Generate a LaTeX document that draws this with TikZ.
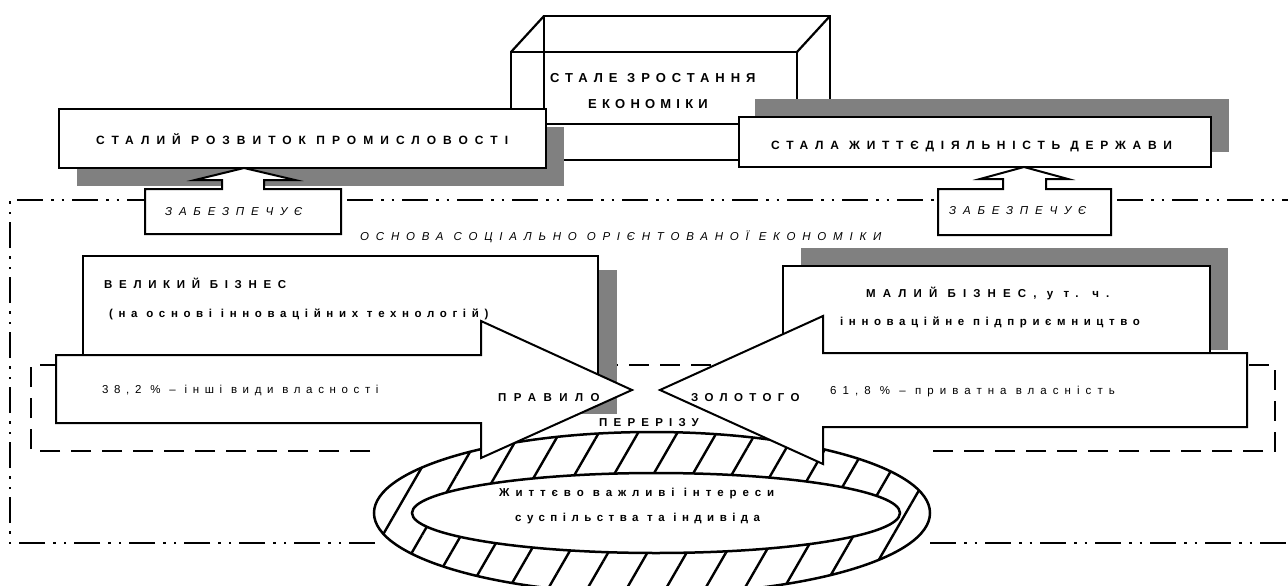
\documentclass[tikz,border=0pt]{standalone}
\usepackage{fontspec}
\setmainfont{Liberation Sans}
\usetikzlibrary{patterns.meta}

\tikzset{
  box/.style={draw, line width=2pt, fill=white},
  shade/.style={fill=black!50},
  cube/.style={line width=2.2pt},
  frameline/.style={line width=1.8pt, dash pattern=on 26pt off 8pt on 2.5pt off 8pt on 2.5pt off 8pt},
  dashline/.style={line width=2pt, dash pattern=on 20pt off 11pt},
  capsb/.style 2 args={inner sep=0pt, anchor=base west, font=\fontsize{#1}{#1}\selectfont\bfseries\addfontfeatures{LetterSpace=#2}},
  capsi/.style 2 args={inner sep=0pt, anchor=base west, font=\fontsize{#1}{#1}\selectfont\itshape\addfontfeatures{LetterSpace=#2}},
  capsr/.style 2 args={inner sep=0pt, anchor=base west, font=\fontsize{#1}{#1}\selectfont\addfontfeatures{LetterSpace=#2}},
}

\begin{document}
\begin{tikzpicture}[x=1pt, y=-1pt]

        \fill[white] (0,0) rectangle (1288,586);
        \useasboundingbox (0,0) rectangle (1288,586);

        % dash-dot frame
        \draw[frameline] (375,543) -| (10,200) -- (1300,200);
        \draw[frameline] (930,543) -- (1300,543);

        % cube
        \draw[cube] (511,52) rectangle (797,160);
        \draw[cube] (544,16) rectangle (830,124);
        \draw[cube] (511,52) -- (544,16);
        \draw[cube] (797,52) -- (830,16);
        \draw[cube] (511,160) -- (544,124);
        \draw[cube] (797,160) -- (830,124);

        % top boxes
        \fill[shade] (77,127) rectangle (564,186);
        \draw[box] (59,109) rectangle (546,168);
        \fill[shade] (755,99) rectangle (1229,152);
        \draw[box] (739,117) rectangle (1211,167);

        % callouts
        \draw[box] (145,234) -- (145,189) -- (222,189) -- (222,180) -- (195,180) -- (244,168)
          -- (295,180) -- (264,180) -- (264,189) -- (341,189) -- (341,234) -- cycle;
        \draw[box] (938,235) -- (938,189) -- (1003,189) -- (1003,179) -- (980,179) -- (1024,167)
          -- (1068,179) -- (1046,179) -- (1046,189) -- (1111,189) -- (1111,235) -- cycle;

        % dashed rectangle
        \draw[dashline] (370,451) -| (31,365) -| (1275,451) -- (929,451);

        % business boxes
        \fill[shade] (102,270) rectangle (617,414);
        \draw[box] (83,256) rectangle (598,400);
        \fill[shade] (801,248) rectangle (1228,350);
        \draw[box] (783,266) rectangle (1210,368);

        % ring
        \fill[white] (652,513) ellipse [x radius=278pt, y radius=81pt];
        \fill[pattern={Lines[angle=60, distance=34pt, line width=2.4pt]}, even odd rule]
          (652,513) ellipse [x radius=278pt, y radius=81pt]
          (656,513) ellipse [x radius=244pt, y radius=40pt];
        \draw[line width=2.5pt] (652,513) ellipse [x radius=278pt, y radius=81pt];
        \draw[line width=2.5pt] (656,513) ellipse [x radius=244pt, y radius=40pt];

        % arrows
        \draw[box] (56,355) -- (481,355) -- (481,321) -- (632,390) -- (481,458) -- (481,423) -- (56,423) -- cycle;
        \draw[box] (1247,353) -- (823,353) -- (823,316) -- (660,390) -- (823,464) -- (823,427) -- (1247,427) -- cycle;

        % texts
        \node[capsb={13}{46}] (growth1) at (550,82.5) {СТАЛЕ ЗРОСТАННЯ};
        \node[capsb={13}{40}] (growth2) at (588,108.5) {ЕКОНОМІКИ};
        \node[capsb={12}{58.6}] (industry) at (96,144) {СТАЛИЙ РОЗВИТОК ПРОМИСЛОВОСТІ};
        \node[capsb={12}{56.3}] (state) at (771,149) {СТАЛА ЖИТТЄДІЯЛЬНІСТЬ ДЕРЖАВИ};
        \node[capsi={11.5}{59}] (provides1) at (165,215) {ЗАБЕЗПЕЧУЄ};
        \node[capsi={11.5}{59}] (provides2) at (949,214) {ЗАБЕЗПЕЧУЄ};
        \node[capsi={11.5}{59}] (basis) at (360,240) {ОСНОВА СОЦІАЛЬНО ОРІЄНТОВАНОЇ ЕКОНОМІКИ};
        \node[capsb={11.5}{58}] (big1) at (104,288) {ВЕЛИКИЙ БІЗНЕС};
        \node[capsb={11.5}{49}] (big2) at (109,317) {(на основі інноваційних технологій)};
        \node[capsr={11.5}{49}] (other) at (102,393) {38,2 \% – інші види власності};
        \node[capsb={11.5}{62}] (small1) at (866,297) {МАЛИЙ БІЗНЕС, у т. ч.};
        \node[capsb={11.5}{48.7}] (small2) at (840,325) {інноваційне підприємництво};
        \node[capsr={11.5}{52.6}] (private) at (830,394) {61,8 \% – приватна власність};
        \node[capsb={11.5}{64.5}] (rule) at (498,401) {ПРАВИЛО};
        \node[capsb={11.5}{55.4}] (golden) at (691,401) {ЗОЛОТОГО};
        \node[capsb={11.5}{54}] (section) at (599,426) {ПЕРЕРІЗУ};
        \node[capsb={11.5}{51.6}] (vital1) at (499,496) {Життєво важливі інтереси};
        \node[capsb={11.5}{47.5}] (vital2) at (515,521) {суспільства та індивіда};

    \end{tikzpicture}
\end{document}
